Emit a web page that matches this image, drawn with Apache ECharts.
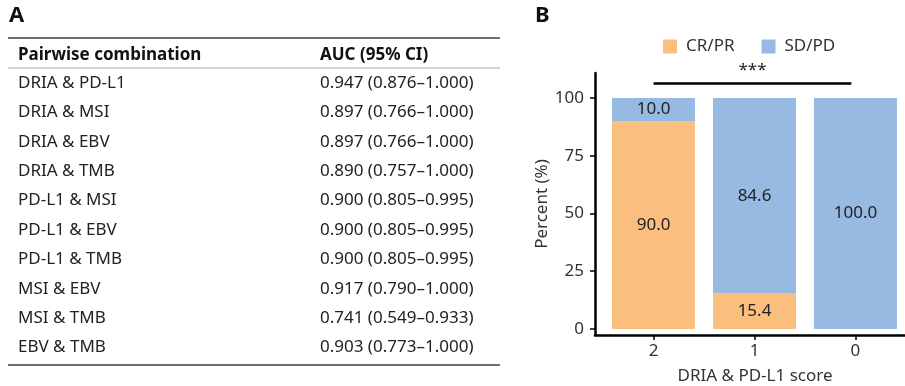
<!DOCTYPE html>
<html>
<head>
<meta charset="utf-8">
<script src="https://cdn.jsdelivr.net/npm/echarts@6/dist/echarts.min.js"></script>
<style>
html,body{margin:0;padding:0;background:#fff;}
#c{width:905px;height:386px;}
</style>
</head>
<body>
<div id="c"></div>
<script>
// ---- Panel A data (table) ----
const tableHeader = ['Pairwise combination', 'AUC (95% CI)'];
const combinations = ['DRIA & PD-L1','DRIA & MSI','DRIA & EBV','DRIA & TMB','PD-L1 & MSI','PD-L1 & EBV','PD-L1 & TMB','MSI & EBV','MSI & TMB','EBV & TMB'];
const aucValues = [0.947, 0.897, 0.897, 0.890, 0.900, 0.900, 0.900, 0.917, 0.741, 0.903];
const ciLower   = [0.876, 0.766, 0.766, 0.757, 0.805, 0.805, 0.805, 0.790, 0.549, 0.773];
const ciUpper   = [1.000, 1.000, 1.000, 1.000, 0.995, 0.995, 0.995, 1.000, 0.933, 1.000];

// ---- Panel B data (stacked bar) ----
const categories = ['2', '1', '0'];
const crprValues = [90.0, 15.4, 0];
const sdpdValues = [10.0, 84.6, 100.0];
const yTicks = [0, 25, 50, 75, 100];
const sigBracket = [0, 1.96, 106.5]; // from category index, to category index, y value
const sigLabel = '***';

const FONT = '"Noto Sans", sans-serif';
const chart = echarts.init(document.getElementById('c'), null, {renderer: 'canvas'});

const graphics = [];
// Panel letters
graphics.push({type:'text', left: 9, top: 5, style:{text:'A', font:'bold 22px ' + FONT, fill:'#111'}});
graphics.push({type:'text', left: 535, top: 5, style:{text:'B', font:'bold 22px ' + FONT, fill:'#111'}});
// Table rules
graphics.push({type:'line', shape:{x1:8, y1:38, x2:500, y2:38}, style:{stroke:'#6f6f6f', lineWidth:2}});
graphics.push({type:'line', shape:{x1:8, y1:68, x2:500, y2:68}, style:{stroke:'#a8a8a8', lineWidth:1}});
graphics.push({type:'line', shape:{x1:8, y1:365, x2:500, y2:365}, style:{stroke:'#6f6f6f', lineWidth:2}});
// Header
const colX = [18, 320];
graphics.push({type:'text', x: colX[0], y: 55, style:{text: tableHeader[0], font:'bold 17px ' + FONT, fill:'#111', verticalAlign:'middle'}});
graphics.push({type:'text', x: colX[1], y: 55, style:{text: tableHeader[1], font:'bold 17px ' + FONT, fill:'#111', verticalAlign:'middle'}});
// Rows
combinations.forEach((name, i) => {
  const y = 83 + i * 29.4;
  const val = aucValues[i].toFixed(3) + ' (' + ciLower[i].toFixed(3) + '\u2013' + ciUpper[i].toFixed(3) + ')';
  graphics.push({type:'text', x: colX[0], y: y, style:{text: name, font:'17px ' + FONT, fill:'#222', verticalAlign:'middle'}});
  graphics.push({type:'text', x: colX[1], y: y, style:{text: val, font:'17px ' + FONT, fill:'#222', verticalAlign:'middle'}});
});

const labelFmt = p => (p.value[0] > 0 ? p.value[0].toFixed(1) : '');

const option = {
  animation: false,
  backgroundColor: '#fff',
  graphic: graphics,
  legend: {
    left: 663, top: 38, padding: 0,
    itemWidth: 14, itemHeight: 14, itemGap: 27,
    icon: 'rect',
    textStyle: {fontFamily: FONT, fontSize: 17, color: '#333', padding: [0,0,0,4]},
    data: ['CR/PR', 'SD/PD']
  },
  grid: {left: 595, width: 320, top: 73, bottom: 51, containLabel: false, outerBoundsMode: 'none'},
  xAxis: {
    type: 'value', min: -0.58, max: 2.59,
    name: 'DRIA & PD-L1 score', nameLocation: 'middle', nameGap: 33,
    nameTextStyle: {fontFamily: FONT, fontSize: 17, color: '#333'},
    splitLine: {show: false},
    axisLine: {show: true, onZero: false, lineStyle: {color: '#000', width: 2.5}},
    axisTick: {show: true, length: 5, lineStyle: {color: '#000', width: 1.5}, customValues: [0,1,2]},
    axisLabel: {fontFamily: FONT, fontSize: 17, color: '#333', margin: 8, customValues: [0,1,2],
      formatter: v => categories[Math.round(v)]}
  },
  yAxis: {
    type: 'value', min: -2.6, max: 110.8,
    name: 'Percent (%)', nameLocation: 'middle', nameGap: 35, nameRotate: 90,
    nameTextStyle: {fontFamily: FONT, fontSize: 17, color: '#333'},
    splitLine: {show: false},
    axisLine: {show: true, onZero: false, lineStyle: {color: '#000', width: 2.5}},
    axisTick: {show: true, length: 5, lineStyle: {color: '#000', width: 1.5}, customValues: yTicks},
    axisLabel: {fontFamily: FONT, fontSize: 17, color: '#333', margin: 11, customValues: yTicks}
  },
  series: [
    {
      name: 'CR/PR', type: 'bar', stack: 'a', barWidth: 83,
      encode: {x: 1, y: 0},
      itemStyle: {color: '#FABE7E'},
      label: {show: true, position: 'inside', fontFamily: FONT, fontSize: 17, color: '#222', formatter: labelFmt},
      data: crprValues.map((v, i) => [v, i])
    },
    {
      name: 'SD/PD', type: 'bar', stack: 'a', barWidth: 83,
      encode: {x: 1, y: 0},
      itemStyle: {color: '#96BAE1'},
      label: {show: true, position: 'inside', fontFamily: FONT, fontSize: 17, color: '#222', formatter: labelFmt},
      data: sdpdValues.map((v, i) => [v, i]),
      markLine: {
        silent: true, symbol: 'none',
        lineStyle: {color: '#000', width: 2.5, type: 'solid'},
        label: {show: true, position: 'middle', formatter: sigLabel, fontFamily: FONT, fontSize: 17, color: '#222', distance: 4},
        data: [[{coord: [sigBracket[0], sigBracket[2]]}, {coord: [sigBracket[1], sigBracket[2]]}]]
      }
    }
  ]
};
chart.setOption(option);
</script>
</body>
</html>
